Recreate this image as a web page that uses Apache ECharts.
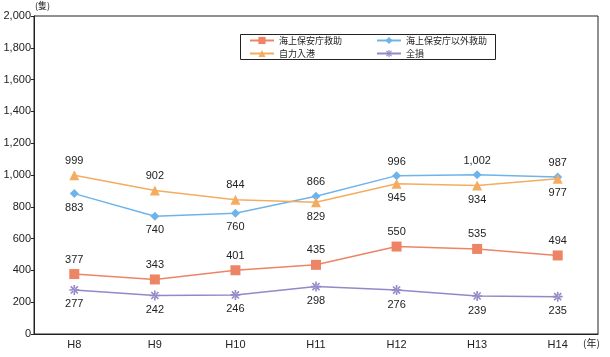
<!DOCTYPE html>
<html><head><meta charset="utf-8">
<script src="https://cdn.jsdelivr.net/npm/echarts@6/dist/echarts.min.js"></script>
<style>html,body{margin:0;padding:0;background:#fff}#c{width:610px;height:357px}</style>
</head><body><div id="c"></div>
<script>
const categories = ['H8','H9','H10','H11','H12','H13','H14'];
const jcgRescue = [377,343,401,435,550,535,494];
const otherRescue = [883,740,760,866,996,1002,987];
const selfReturn = [999,902,844,829,945,934,977];
const totalLoss = [277,242,246,298,276,239,235];
const otherPos = ['bottom','bottom','bottom','top','top','top','top'];
const selfPos = ['top','top','top','bottom','bottom','bottom','bottom'];

const font = 'Liberation Sans, Arial, sans-serif';
function withPos(vals, pos){ return vals.map((v,i)=>({value:v,label:{position:pos[i]}})); }
const lbl = {show:true, fontSize:11, color:'#222', fontFamily:font, distance:4,
  formatter:p=>p.value.toLocaleString('en-US')};
const starPath = 'path://M-0.8,-5L0.8,-5L0.8,5L-0.8,5Z M-5,-0.8L5,-0.8L5,0.8L-5,0.8Z M-4.1,-3L-3,-4.1L4.1,3L3,4.1Z M-4.1,3L-3,4.1L4.1,-3L3,-4.1Z';

const chart = echarts.init(document.getElementById('c'));
const legendText = {fontSize:9,color:'#222',fontFamily:'Noto Sans CJK JP',padding:[0,0,0,0]};
chart.setOption({
  animation:false,
  grid:{left:34,right:12,top:16,bottom:23,show:true,borderColor:'#222',borderWidth:1},
  xAxis:{type:'category',data:categories,
    axisLine:{lineStyle:{color:'#222',width:1}},axisTick:{show:false},
    axisLabel:{fontSize:11,color:'#222',fontFamily:font,margin:5}},
  yAxis:{type:'value',min:0,max:2000,interval:200,
    axisLine:{show:true,lineStyle:{color:'#222',width:1}},
    axisTick:{show:true,length:3,lineStyle:{color:'#222'}},
    splitLine:{show:false},
    axisLabel:{fontSize:11,color:'#222',fontFamily:font,margin:3,
      formatter:v=>v.toLocaleString('en-US')}},
  legend:[
    {left:249,top:36,padding:0,orient:'vertical',itemGap:4,itemWidth:24,itemHeight:9,
     textStyle:legendText,
     data:['海上保安庁救助','自力入港']},
    {left:376,top:36,padding:0,orient:'vertical',itemGap:4,itemWidth:24,itemHeight:9,
     textStyle:legendText,
     data:['海上保安庁以外救助','全損']}
  ],
  graphic:[
    {type:'rect',shape:{x:240.5,y:34.5,width:255,height:25},style:{fill:'none',stroke:'#222',lineWidth:1},z:0},
    {type:'text',left:35,top:1,style:{text:'(隻)',fontSize:9,fill:'#222',fontFamily:'Noto Sans CJK JP'}},
    {type:'text',left:583,top:338,style:{text:'(年)',fontSize:10,fill:'#222',fontFamily:'Noto Sans CJK JP'}}
  ],
  series:[
    {name:'海上保安庁救助',type:'line',data:jcgRescue,symbol:'rect',symbolSize:10,
     itemStyle:{color:'#EE8466'},lineStyle:{width:1.5,color:'#EE8466'},
     label:Object.assign({},lbl,{position:'top'})},
    {name:'海上保安庁以外救助',type:'line',data:withPos(otherRescue,otherPos),symbol:'diamond',symbolSize:9,
     itemStyle:{color:'#6EB4EA'},lineStyle:{width:1.5,color:'#6EB4EA'},
     label:lbl},
    {name:'自力入港',type:'line',data:withPos(selfReturn,selfPos),symbol:'triangle',symbolSize:10,
     itemStyle:{color:'#F4AD60'},lineStyle:{width:1.5,color:'#F4AD60'},
     label:lbl},
    {name:'全損',type:'line',data:totalLoss,
     symbol:starPath,symbolSize:10,
     itemStyle:{color:'#9488C8'},lineStyle:{width:1.5,color:'#9488C8'},
     label:Object.assign({},lbl,{position:'bottom'})}
  ]
});
</script></body></html>
